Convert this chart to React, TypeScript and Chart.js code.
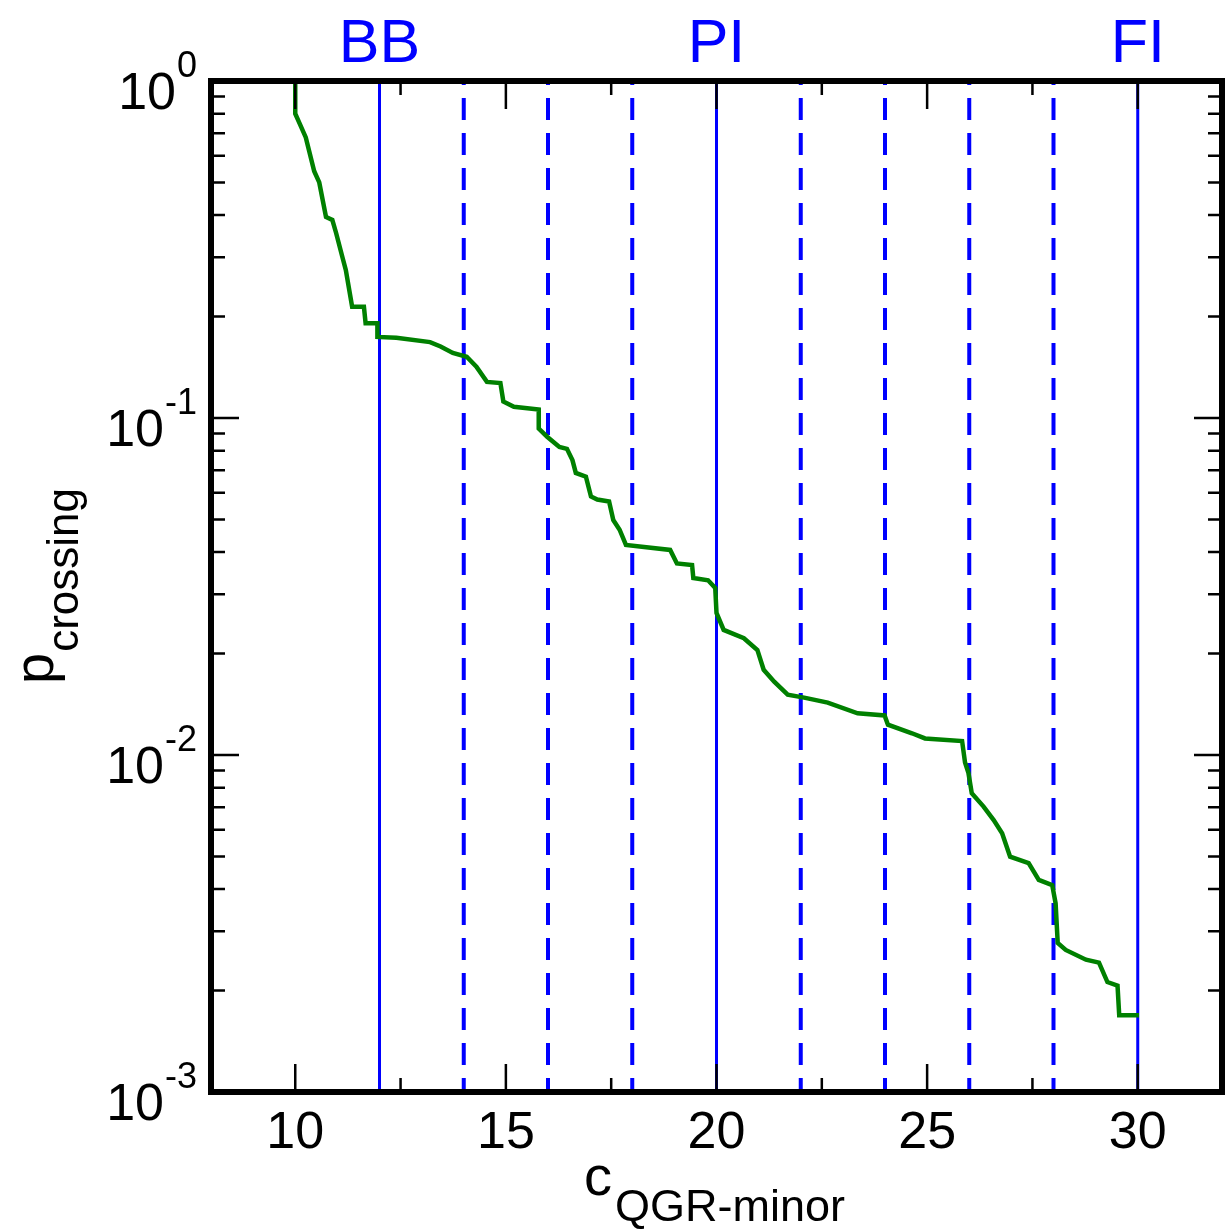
import React, { useEffect, useRef } from "react";
import { Chart, registerables } from "chart.js";

Chart.register(...registerables);

// ---- data ----
const curveX = [10.0, 10.0, 10.1, 10.25, 10.33, 10.45, 10.57, 10.73, 10.88, 10.97, 11.12, 11.2, 11.35, 11.63, 11.67, 11.95, 11.95, 12.4, 13.2, 13.45, 13.74, 14.07, 14.3, 14.55, 14.87, 14.94, 15.19, 15.78, 15.78, 15.98, 16.27, 16.45, 16.58, 16.66, 16.9, 17.02, 17.17, 17.45, 17.55, 17.7, 17.85, 18.9, 19.06, 19.42, 19.45, 19.8, 19.97, 20.0, 20.17, 20.65, 20.97, 21.12, 21.37, 21.69, 22.08, 22.64, 23.35, 23.99, 24.07, 24.64, 24.95, 25.83, 25.9, 25.98, 26.06, 26.34, 26.58, 26.78, 26.97, 27.41, 27.65, 27.97, 28.05, 28.1, 28.29, 28.77, 29.08, 29.28, 29.52, 29.56, 30.03];
const curveY = [1.0, 0.8, 0.75, 0.68, 0.62, 0.54, 0.5, 0.395, 0.387, 0.354, 0.3, 0.275, 0.214, 0.214, 0.191, 0.191, 0.174, 0.173, 0.168, 0.163, 0.156, 0.152, 0.142, 0.128, 0.127, 0.112, 0.108, 0.106, 0.093, 0.088, 0.082, 0.081, 0.075, 0.0687, 0.067, 0.0585, 0.0573, 0.0565, 0.0498, 0.0466, 0.042, 0.0406, 0.037, 0.0366, 0.0335, 0.033, 0.0313, 0.0264, 0.0235, 0.0222, 0.0205, 0.0179, 0.0165, 0.0151, 0.0148, 0.0143, 0.0133, 0.0131, 0.0123, 0.0116, 0.0112, 0.011, 0.0095, 0.00885, 0.0077, 0.00703, 0.00641, 0.00586, 0.00499, 0.00478, 0.00426, 0.00411, 0.00363, 0.00277, 0.00264, 0.00247, 0.00242, 0.00212, 0.00207, 0.00169, 0.00169];

const solidLines = [12, 20, 30];
const dashedLines = [14, 16, 18, 22, 24, 26, 28];
const regimeLabels = ["BB", "PI", "FI"];
const regimeX = [12, 20, 30];

const xMajorTicks = [10, 15, 20, 25, 30];
const xMinorTicks = [12.5, 17.5, 22.5, 27.5];
const yTickExponents = [0, -1, -2, -3];
const yMinorMultipliers = [2, 3, 4, 5, 6, 7, 8, 9];

const X_MIN = 8;
const X_MAX = 32;
const Y_MIN = 1e-3;
const Y_MAX = 1;

const xTitleMain = "c";
const xTitleSub = "QGR-minor";
const yTitleMain = "p";
const yTitleSub = "crossing";

const FONT = '"Liberation Sans", Arial, Helvetica, sans-serif';
const BLUE = "#0000ff";
const GREEN = "#008000";

const decorPlugin = {
  id: "decor",
  afterDraw(chart: any) {
    const ctx = chart.ctx as CanvasRenderingContext2D;
    const a = chart.chartArea;
    const xs = chart.scales.x;
    const ys = chart.scales.y;
    ctx.save();

    // inward ticks
    ctx.strokeStyle = "#000";
    ctx.lineWidth = 2.5;
    const majorLen = 28;
    const minorLen = 14;
    ctx.beginPath();
    const xt = (v: number, len: number) => {
      const px = xs.getPixelForValue(v);
      ctx.moveTo(px, a.bottom);
      ctx.lineTo(px, a.bottom - len);
      ctx.moveTo(px, a.top);
      ctx.lineTo(px, a.top + len);
    };
    xMajorTicks.forEach((v) => xt(v, majorLen));
    xMinorTicks.forEach((v) => xt(v, minorLen));
    const yt = (v: number, len: number) => {
      const py = ys.getPixelForValue(v);
      ctx.moveTo(a.left, py);
      ctx.lineTo(a.left + len, py);
      ctx.moveTo(a.right, py);
      ctx.lineTo(a.right - len, py);
    };
    yTickExponents.forEach((e) => yt(Math.pow(10, e), majorLen));
    yTickExponents.forEach((e) => {
      if (e >= 0) return;
      yMinorMultipliers.forEach((m) => yt(m * Math.pow(10, e), minorLen));
    });
    ctx.stroke();

    // frame
    ctx.lineWidth = 6;
    ctx.strokeRect(a.left, a.top, a.right - a.left, a.bottom - a.top);

    // x tick labels
    ctx.fillStyle = "#000";
    ctx.textBaseline = "alphabetic";
    ctx.textAlign = "center";
    ctx.font = `52px ${FONT}`;
    xMajorTicks.forEach((v) => {
      ctx.fillText(String(v), xs.getPixelForValue(v), a.bottom + 56);
    });

    // y tick labels 10^e
    const labelRight = 197;
    yTickExponents.forEach((e) => {
      const py = ys.getPixelForValue(Math.pow(10, e));
      const sup = String(e);
      ctx.textAlign = "right";
      ctx.font = `36px ${FONT}`;
      const supW = ctx.measureText(sup).width;
      ctx.fillText(sup, labelRight, py - 4);
      ctx.font = `52px ${FONT}`;
      ctx.fillText("10", labelRight - supW - 1, py + 28);
    });

    // x title
    ctx.textAlign = "left";
    ctx.font = `56px ${FONT}`;
    const cW = ctx.measureText(xTitleMain).width;
    ctx.font = `45px ${FONT}`;
    const sW = ctx.measureText(xTitleSub).width;
    const xCenter = xs.getPixelForValue(20) - 2;
    const startX = xCenter - (cW + 3 + sW) / 2;
    ctx.font = `56px ${FONT}`;
    ctx.fillText(xTitleMain, startX, 1195);
    ctx.font = `45px ${FONT}`;
    ctx.fillText(xTitleSub, startX + cW + 3, 1221);

    // y title (rotated)
    ctx.save();
    ctx.translate(53, 684);
    ctx.rotate(-Math.PI / 2);
    ctx.textAlign = "left";
    ctx.font = `56px ${FONT}`;
    const pW = ctx.measureText(yTitleMain).width;
    ctx.fillText(yTitleMain, 0, 0);
    ctx.font = `44px ${FONT}`;
    ctx.fillText(yTitleSub, pW + 1, 25);
    ctx.restore();

    // regime labels
    ctx.fillStyle = BLUE;
    ctx.textAlign = "center";
    ctx.font = `61px ${FONT}`;
    regimeLabels.forEach((lab, i) => {
      ctx.fillText(lab, xs.getPixelForValue(regimeX[i]), 62);
    });

    ctx.restore();
  },
};

export default function App() {
  const ref = useRef<HTMLCanvasElement>(null);

  useEffect(() => {
    if (!ref.current) return;
    const datasets: any[] = [];
    datasets.push({
      label: "p_crossing",
      data: curveX.map((x, i) => ({ x, y: curveY[i] })),
      borderColor: GREEN,
      borderWidth: 4.5,
      pointRadius: 0,
      showLine: true,
      tension: 0,
      order: 0,
    });
    solidLines.forEach((x) => {
      datasets.push({
        label: `solid ${x}`,
        data: [
          { x, y: Y_MAX },
          { x, y: Y_MIN },
        ],
        borderColor: BLUE,
        borderWidth: 3,
        pointRadius: 0,
        showLine: true,
        order: 1,
      });
    });
    dashedLines.forEach((x) => {
      datasets.push({
        label: `dashed ${x}`,
        data: [
          { x, y: Y_MAX },
          { x, y: Y_MIN },
        ],
        borderColor: BLUE,
        borderWidth: 4,
        borderDash: [22, 13],
        borderDashOffset: 18,
        pointRadius: 0,
        showLine: true,
        order: 1,
      });
    });

    const chart = new Chart(ref.current, {
      type: "scatter",
      data: { datasets },
      options: {
        responsive: false,
        animation: false,
        layout: { padding: { left: 211, top: 81, right: 8, bottom: 138 } },
        scales: {
          x: { type: "linear", min: X_MIN, max: X_MAX, display: false },
          y: { type: "logarithmic", min: Y_MIN, max: Y_MAX, display: false },
        },
        plugins: {
          legend: { display: false },
          tooltip: { enabled: false },
        },
      },
      plugins: [decorPlugin],
    } as any);
    return () => chart.destroy();
  }, []);

  return (
    <div
      style={{
        position: "absolute",
        left: 0,
        top: 0,
        width: 1230,
        height: 1230,
        background: "#ffffff",
      }}
    >
      <canvas ref={ref} width={1230} height={1230} style={{ display: "block" }} />
    </div>
  );
}
